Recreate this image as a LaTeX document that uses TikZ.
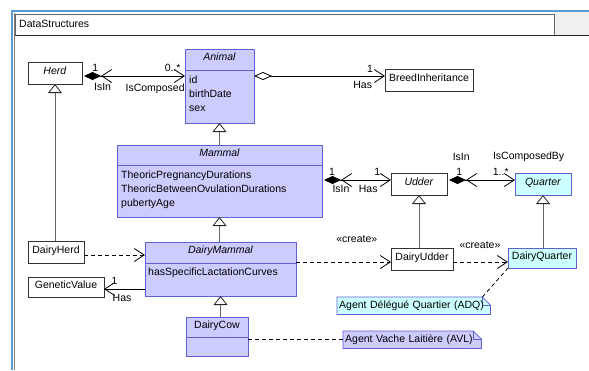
\documentclass[tikz,border=0pt]{standalone}
\usepackage{fontspec}
\setmainfont{Liberation Sans}
\usetikzlibrary{arrows.meta,shadows,backgrounds}

\definecolor{classfill}{RGB}{204,204,255}
\definecolor{classline}{RGB}{96,96,208}
\definecolor{partfill}{RGB}{204,255,255}
\definecolor{tabgrey}{RGB}{240,240,240}
\definecolor{frameblue}{RGB}{91,155,213}

\tikzset{
  every node/.append style={font=\fontsize{10.5}{14}\selectfont},
  umlbox/.style={anchor=north west, inner sep=0pt, outer sep=0pt, line width=0.8pt,
    text height=7.5pt, text depth=5pt,
    drop shadow={shadow xshift=1.2pt, shadow yshift=-1.2pt, fill=black, opacity=0.25}},
  plainclass/.style={umlbox, draw=black!80, fill=white},
  blueclass/.style={umlbox, draw=classline, fill=classfill},
  cyanclass/.style={umlbox, draw=classline, fill=partfill},
  attrs/.style={anchor=north west, inner sep=0pt, align=left},
  notebox/.style={anchor=north west, inner xsep=2pt, inner ysep=0pt, align=left},
  rolelabel/.style={inner sep=1pt},
  barb/.tip={Straight Barb[length=10pt,width=13pt]},
  composition/.style={line width=0.8pt, {Diamond[length=17pt,width=8pt,sep=2pt] barb}-barb},
  aggregation/.style={line width=0.8pt, {Diamond[open,fill=white,length=18pt,width=8pt]}-barb},
  association/.style={line width=0.8pt, -barb},
  generalization/.style={draw=black!60, line width=0.8pt,
    -{Triangle[open,fill=white,color=black!85,length=9pt,width=14pt]}},
  dependency/.style={line width=0.8pt, dash pattern=on 4pt off 3pt, -barb},
  notelink/.style={line width=0.8pt, dash pattern=on 4pt off 3pt}
}

\begin{document}
\begin{tikzpicture}[x=1pt,y=-1pt]
    \useasboundingbox (0,0) rectangle (589,370);

    % Package frame
    \fill[tabgrey] (554,12) rectangle (589,35);
    \draw[frameblue, line width=2pt] (11.5,370) -- (11.5,10.5) -- (589,10.5);
    \draw[black!50, line width=1.2pt] (14.6,370) -- (14.6,13);
    \draw[black!60, line width=1pt] (15,35) -- (15,14) -- (554,14) -- (554,35);
    \draw[black!85, line width=0.8pt] (15,35) -- (589,35);
    \node[anchor=west, inner sep=0pt] (pkgname) at (19,24) {DataStructures};

    % Classes
    \node[plainclass, minimum width=54pt, minimum height=22pt] (herd) at (28,62) {\textit{Herd}};
    \node[blueclass, minimum width=69pt, minimum height=21pt] (animal-head) at (185,49) {\textit{Animal}};
    \node[blueclass, minimum width=69pt, minimum height=53pt] (animal-body) at (185,70) {};
    \node[attrs] (animal-attrs) at (189,76) {id\\birthDate\\sex};
    \node[plainclass, minimum width=88pt, minimum height=22pt] (breed) at (385,69) {BreedInheritance};

    \node[blueclass, minimum width=205pt, minimum height=20pt] (mammal-head) at (117,145) {\textit{Mammal}};
    \node[blueclass, minimum width=205pt, minimum height=52pt] (mammal-body) at (117,165) {};
    \node[attrs] (mammal-attrs) at (121,171) {TheoricPregnancyDurations\\TheoricBetweenOvulationDurations\\pubertyAge};
    \node[plainclass, minimum width=56pt, minimum height=22pt] (udder) at (391,173) {\textit{Udder}};
    \node[cyanclass, minimum width=56pt, minimum height=22pt] (quarter) at (515,173) {\textit{Quarter}};

    \node[plainclass, minimum width=56pt, minimum height=22pt] (dairyherd) at (28,241) {DairyHerd};
    \node[blueclass, minimum width=151pt, minimum height=21pt] (dairymammal-head) at (145,242) {\textit{DairyMammal}};
    \node[blueclass, minimum width=151pt, minimum height=33pt] (dairymammal-body) at (145,263) {};
    \node[attrs] (dairymammal-attrs) at (148,267.5) {hasSpecificLactationCurves};
    \node[plainclass, minimum width=76pt, minimum height=20pt] (genetic) at (28,277) {GeneticValue};
    \node[plainclass, minimum width=62pt, minimum height=22pt] (dairyudder) at (391,248) {DairyUdder};
    \node[cyanclass, minimum width=68pt, minimum height=20pt] (dairyquarter) at (508,248) {DairyQuarter};

    \node[blueclass, minimum width=62pt, minimum height=20pt] (dairycow-head) at (186,317) {DairyCow};
    \node[blueclass, minimum width=62pt, minimum height=19pt] (dairycow-body) at (186,337) {};

    % Notes
    \node[notebox, text width=149pt, minimum height=17pt] (adq) at (337,297) {Agent Délégué Quartier (ADQ)};
    \node[notebox, text width=134pt, minimum height=17pt] (avl) at (343,331) {Agent Vache Laitière (AVL)};
    \begin{scope}[on background layer]
        \filldraw[draw=classline, fill=partfill, line width=0.8pt] (adq.north west) -- ([xshift=-8pt]adq.north east)
            -- ([yshift=-8pt]adq.north east) -- (adq.south east) -- (adq.south west) -- cycle;
        \draw[classline, line width=0.8pt] ([xshift=-8pt]adq.north east) |- ([yshift=-8pt]adq.north east);
        \filldraw[draw=classline, fill=classfill, line width=0.8pt] (avl.north west) -- ([xshift=-8pt]avl.north east)
            -- ([yshift=-8pt]avl.north east) -- (avl.south east) -- (avl.south west) -- cycle;
        \draw[classline, line width=0.8pt] ([xshift=-8pt]avl.north east) |- ([yshift=-8pt]avl.north east);
    \end{scope}

    % Associations
    \coordinate (herdlink) at ([yshift=-3pt]herd.east);
    \draw[composition] (herdlink) -- (herdlink -| animal-body.west)
        node[rolelabel, pos=0.13, above=3pt] (herd-mult) {1}
        node[rolelabel, pos=0.2, below=6pt] (herd-role) {IsIn}
        node[rolelabel, pos=0.88, above=3pt] (animal-mult) {0..*}
        node[rolelabel, pos=0.71, below=6pt] (animal-role) {IsComposed};
    \draw[aggregation] (herdlink -| animal-body.east) -- (herdlink -| breed.west)
        node[rolelabel, pos=0.885, above=2pt] (breed-mult) {1}
        node[rolelabel, pos=0.83, below=4pt] (breed-role) {Has};

    \coordinate (udderlink) at ([yshift=4pt]udder.west);
    \draw[composition] (udderlink -| mammal-body.east) -- (udderlink)
        node[rolelabel, pos=0.145, above=3pt] (mammal-mult) {1}
        node[rolelabel, pos=0.275, below=4pt] (mammal-role) {IsIn}
        node[rolelabel, pos=0.8, above=3pt] (udder-mult) {1}
        node[rolelabel, pos=0.67, below=4pt] (udder-role) {Has};
    \draw[composition] (udderlink -| udder.east) -- (udderlink -| quarter.west)
        node[rolelabel, pos=0.18, above=3pt] (udderq-mult) {1}
        node[rolelabel, pos=0.21, above=18pt] (udderq-role) {IsIn}
        node[rolelabel, pos=0.79, above=3pt] (quarter-mult) {1..*}
        node[rolelabel, pos=1.2, above=17pt] (quarter-role) {IsComposedBy};

    \coordinate (genlink) at ([yshift=-2pt]genetic.east);
    \draw[association] (genlink -| dairymammal-body.west) -- (genlink)
        node[rolelabel, pos=0.74, above=3pt] (genetic-mult) {1}
        node[rolelabel, pos=0.56, below=4pt] (genetic-role) {Has};

    % Generalizations
    \draw[generalization] (herd.south |- dairyherd.north) -- (herd.south);
    \draw[generalization] (mammal-head.north) -- (animal-body.south);
    \draw[generalization] (mammal-body.south |- dairymammal-head.north) -- (mammal-body.south);
    \draw[generalization] (dairymammal-body.south |- dairycow-head.north) -- (dairymammal-body.south);
    \draw[generalization] (udder.south |- dairyudder.north) -- (udder.south);
    \draw[generalization] (quarter.south |- dairyquarter.north) -- (quarter.south);

    % Dependencies
    \coordinate (herddep) at ([yshift=-3pt]dairyherd.east);
    \draw[dependency] (herddep) -- (herddep -| dairymammal-head.west);
    \coordinate (udderdep) at ([yshift=-3pt]dairyudder.west);
    \draw[dependency] (udderdep -| dairymammal-body.east) -- (udderdep)
        node[rolelabel, pos=0.64, above=18pt] (create-udder) {«create»};
    \draw[dependency] (udderdep -| dairyudder.east) -- (udderdep -| dairyquarter.west)
        node[rolelabel, pos=0.49, above=12pt] (create-quarter) {«create»};

    % Note links
    \draw[notelink] ([xshift=-8pt]adq.north east) -- (dairyquarter.south west);
    \draw[notelink] (avl.west -| dairycow-body.east) -- (avl.west);
\end{tikzpicture}
\end{document}
